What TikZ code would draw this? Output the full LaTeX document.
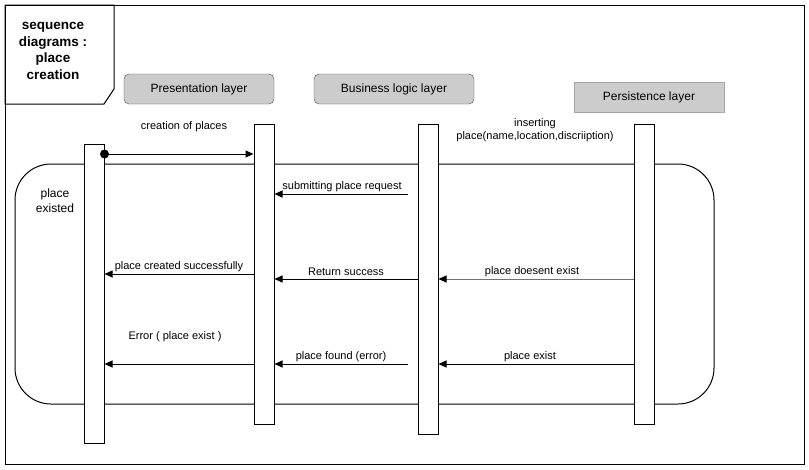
\documentclass[tikz,border=0pt]{standalone}
\usepackage{fontspec}
\setmainfont{Liberation Sans}
\usetikzlibrary{arrows.meta}

\tikzset{
  layerbox/.style={draw=black!70, fill=black!20, minimum width=150pt, minimum height=30pt, inner sep=0pt, font=\fontsize{12}{14}\selectfont},
  actbar/.style={draw, fill=white, line width=1pt, minimum width=20pt, inner sep=0pt},
  msg/.style={line width=1pt, -{Triangle[length=8pt,width=7pt,color=black]}},
  msglabel/.style={inner sep=0.75pt, font=\fontsize{11}{13.5}\selectfont, align=center}
}

\begin{document}
\begin{tikzpicture}[x=1pt,y=1pt,yscale=-1,xscale=1]
\useasboundingbox (0,0) rectangle (809,469);

%Outer frame
\draw [line width=1pt] (5,5) rectangle (804,464) ;
%Title tab
\draw [line width=1pt] (5,5) -- (114,5) -- (114,89) -- (104,104) -- (5,104) -- cycle ;
% Text Node
\node [inner sep=0pt, align=center, font=\bfseries\fontsize{13.5}{16.5}\selectfont] (title) at (53,51) {sequence\\diagrams :\\place\\creation};

%Layer headers
\node [layerbox, rounded corners=5pt] (pres) at (199,89) {Presentation layer};
\node [layerbox, rounded corners=5pt, minimum width=160pt] (biz) at (394,89) {Business logic layer};
\node [layerbox, draw=black!35] (pers) at (649,97) {Persistence layer};

%Rounded frame
\draw [line width=1pt, rounded corners=36pt] (15,164) rectangle (714,404) ;
% Text Node
\node [msglabel, font=\fontsize{12}{15}\selectfont] (existed) at (55,201) {place\\existed};

%Activation bars
\node [actbar, minimum height=299pt] (bar1) at (94,293.5) {};
\node [actbar, minimum height=300pt] (bar2) at (264,274) {};
\node [actbar, minimum height=310pt] (bar3) at (428,279) {};
\node [actbar, minimum height=300pt] (bar4) at (644,274) {};

%Free ends
\coordinate (req) at (408,194);
\coordinate (found) at (408,364);

%Messages
\draw [msg] (bar1.east |- 0,154) -- (bar2.west |- 0,154) ;
\fill (bar1.east |- 0,154) circle (4.5pt) ;
\draw [msg] (req) -- (bar2.east |- req) ;
\draw [msg] (bar2.west |- 0,274) -- (bar1.east |- 0,274) ;
\draw [msg] (bar3.west |- 0,279) -- (bar2.east |- 0,279) ;
\draw [msg, draw=black!55] (bar4.west |- 0,279) -- (bar3.east |- 0,279) ;
\draw [msg] (bar2.west |- 0,364) -- (bar1.east |- 0,364) ;
\draw [msg] (found) -- (bar2.east |- found) ;
\draw [msg] (bar4.west |- 0,364) -- (bar3.east |- 0,364) ;

% Text Node
\node [msglabel] (l1) at (184,127) {creation of places};
% Text Node
\node [msglabel] (l2) at (535,130) {inserting\\place(name,location,discriiption)};
% Text Node
\node [msglabel] (l3) at (342,187) {submitting place request};
% Text Node
\node [msglabel] (l4) at (179,267) {place created successfully};
% Text Node
\node [msglabel] (l5) at (346,272) {Return success};
% Text Node
\node [msglabel] (l6) at (532,272) {place doesent exist};
% Text Node
\node [msglabel] (l7) at (175,337) {Error ( place exist )};
% Text Node
\node [msglabel] (l8) at (341,357) {place found (error)};
% Text Node
\node [msglabel] (l9) at (530,357) {place exist};

\end{tikzpicture}
\end{document}
